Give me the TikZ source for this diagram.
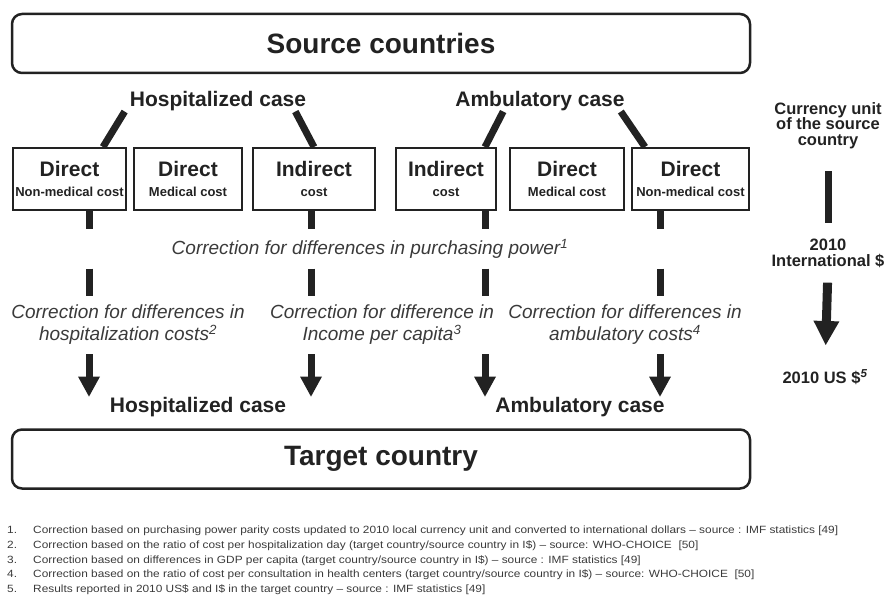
\documentclass[tikz,border=0pt]{standalone}
\usepackage{fontspec}
\setmainfont{Liberation Sans}
\newfontfamily\notefont[Ligatures=TeX,FakeStretch=1.13]{Liberation Sans}
\usetikzlibrary{arrows.meta,positioning}
\definecolor{ink}{HTML}{222222}
\definecolor{soft}{HTML}{3A3A3A}
\newcommand{\fsBig}{\fontsize{28}{30}\selectfont}
\newcommand{\fsCase}{\fontsize{21}{24}\selectfont}
\newcommand{\fsSub}{\fontsize{13}{20}\selectfont}
\newcommand{\fsCorr}{\fontsize{19}{22}\selectfont}
\newcommand{\fsSide}{\fontsize{16.5}{15.5}\selectfont}
\newcommand{\fsNote}{\notefont\fontsize{10.5}{14.6}\selectfont}
\tikzset{
    %Define standard arrow tip
    >={Triangle[width=22pt,length=20pt,line width=0pt]},
    %Define style for the two country boxes
    country/.style={
           rectangle,
           rounded corners=10pt,
           draw=ink, line width=2.5pt,
           minimum width=738pt,
           minimum height=59pt,
           font=\fsBig\bfseries,
           text=ink},
    %Define style for cost boxes
    cost/.style={
           rectangle,
           draw=ink, line width=2pt,
           minimum height=62pt,
           inner sep=0pt,
           align=center,
           font=\fsSub\bfseries,
           text=ink},
    %Define style for case labels
    caselabel/.style={inner sep=0pt, font=\fsCase\bfseries, text=ink},
    %Define style for corrections
    corr/.style={inner sep=0pt, align=center, font=\fsCorr\itshape, text=soft},
    %Define style for currency column
    sidelabel/.style={inner sep=0pt, align=center, font=\fsSide\bfseries, text=ink},
    % Define bar and arrow style
    stem/.style={draw=ink, line width=7pt},
    pil/.style={->, draw=ink, line width=7pt}
}

\begin{document}
\begin{tikzpicture}[x=1pt,y=-1pt]
\useasboundingbox (0,0) rectangle (884,604);
\node[country] (src) at (381,43.5) {Source countries};
\node[caselabel, anchor=base] (hospT) at (218,107) {Hospitalized case};
\node[caselabel, anchor=base] (ambT) at (540,107) {Ambulatory case};
\node[cost, minimum width=113pt] (d1) at (69.5,179) {{\fsCase Direct}\\Non-medical cost};
\node[cost, minimum width=108pt, right=6pt of d1] (d2) {{\fsCase Direct}\\Medical cost};
\node[cost, minimum width=122pt, right=9pt of d2] (d3) {{\fsCase Indirect}\\cost};
\node[cost, minimum width=100pt, right=19pt of d3] (d4) {{\fsCase Indirect}\\cost};
\node[cost, minimum width=114pt, right=12pt of d4] (d5) {{\fsCase Direct}\\Medical cost};
\node[cost, minimum width=117pt, right=6pt of d5] (d6) {{\fsCase Direct}\\Non-medical cost};
\coordinate (c1) at ([xshift=19.5pt]d1.south);
\coordinate (c3) at ([xshift=-3pt]d3.south);
\coordinate (c4) at ([xshift=39pt]d4.south);
\coordinate (c6) at ([xshift=-30.5pt]d6.south);
\node[corr, minimum height=39pt] (pp) at (370,249) {Correction for differences in purchasing power\textsuperscript{1}};
\node[corr, minimum height=58pt] (corrH) at (128,325) {Correction for differences in\\hospitalization costs\textsuperscript{2}};
\node[corr, minimum height=58pt] (corrI) at (382,325) {Correction for difference in\\Income per capita\textsuperscript{3}};
\node[corr, minimum height=58pt] (corrA) at (625,325) {Correction for differences in\\ambulatory costs\textsuperscript{4}};
\node[caselabel, anchor=base] (hospB) at (198,412) {Hospitalized case};
\node[caselabel, anchor=base] (ambB) at (580,412) {Ambulatory case};
\node[country] (tgt) at (381,459) {Target country};
\node[sidelabel, anchor=north] (cur) at (828,102) {Currency unit\\of the source\\country};
\node[sidelabel, anchor=north] (intl) at (828,239) {2010\\International \$};
\node[sidelabel, anchor=north] (usd) at (825,369) {2010 US \$\textsuperscript{\itshape 5}};
\node[anchor=north west, inner sep=0pt, align=left, font=\fsNote, text=soft] (notes) at (7,526) {%
\makebox[26pt][l]{1.}Correction based on purchasing power parity costs updated to 2010 local currency unit and converted to international dollars -- source : IMF statistics [49]\\
\makebox[26pt][l]{2.}Correction based on the ratio of cost per hospitalization day (target country/source country in I\$) -- source: WHO-CHOICE~~[50]\\
\makebox[26pt][l]{3.}Correction based on differences in GDP per capita (target country/source country in I\$) -- source : IMF statistics [49]\\
\makebox[26pt][l]{4.}Correction based on the ratio of cost per consultation in health centers (target country/source country in I\$) -- source: WHO-CHOICE~~[50]\\
\makebox[26pt][l]{5.}Results reported in 2010 US\$ and I\$ in the target country -- source : IMF statistics [49]};
\path[stem]
	([xshift=-5pt]hospT.south west) edge ([xshift=33.5pt]d1.north)
	([xshift=-11pt]hospT.south east) edge (d3.north)
	([xshift=48pt]ambT.south west) edge (c4 |- d4.north)
	([xshift=-4pt]ambT.south east) edge ([xshift=14pt]d6.north west);
\foreach \c/\t/\b in {c1/corrH/hospB, c3/corrI/hospB, c4/corrI/ambB, c6/corrA/ambB}{
	\draw[stem] (\c) -- (\c |- pp.north);
	\draw[stem] (\c |- pp.south) -- (\c |- \t.north);
	\draw[pil] (\c |- \t.south) -- (\c |- \b.north);
}
\draw[stem, shorten <=22.5pt, shorten >=16pt] (cur.south) -- (intl.north);
\draw[pil, line width=9pt, -{Triangle[width=26pt,length=24pt,line width=0pt]}, shorten <=15pt, shorten >=24pt] (intl.south) -- (usd.north);
\end{tikzpicture}
\end{document}
